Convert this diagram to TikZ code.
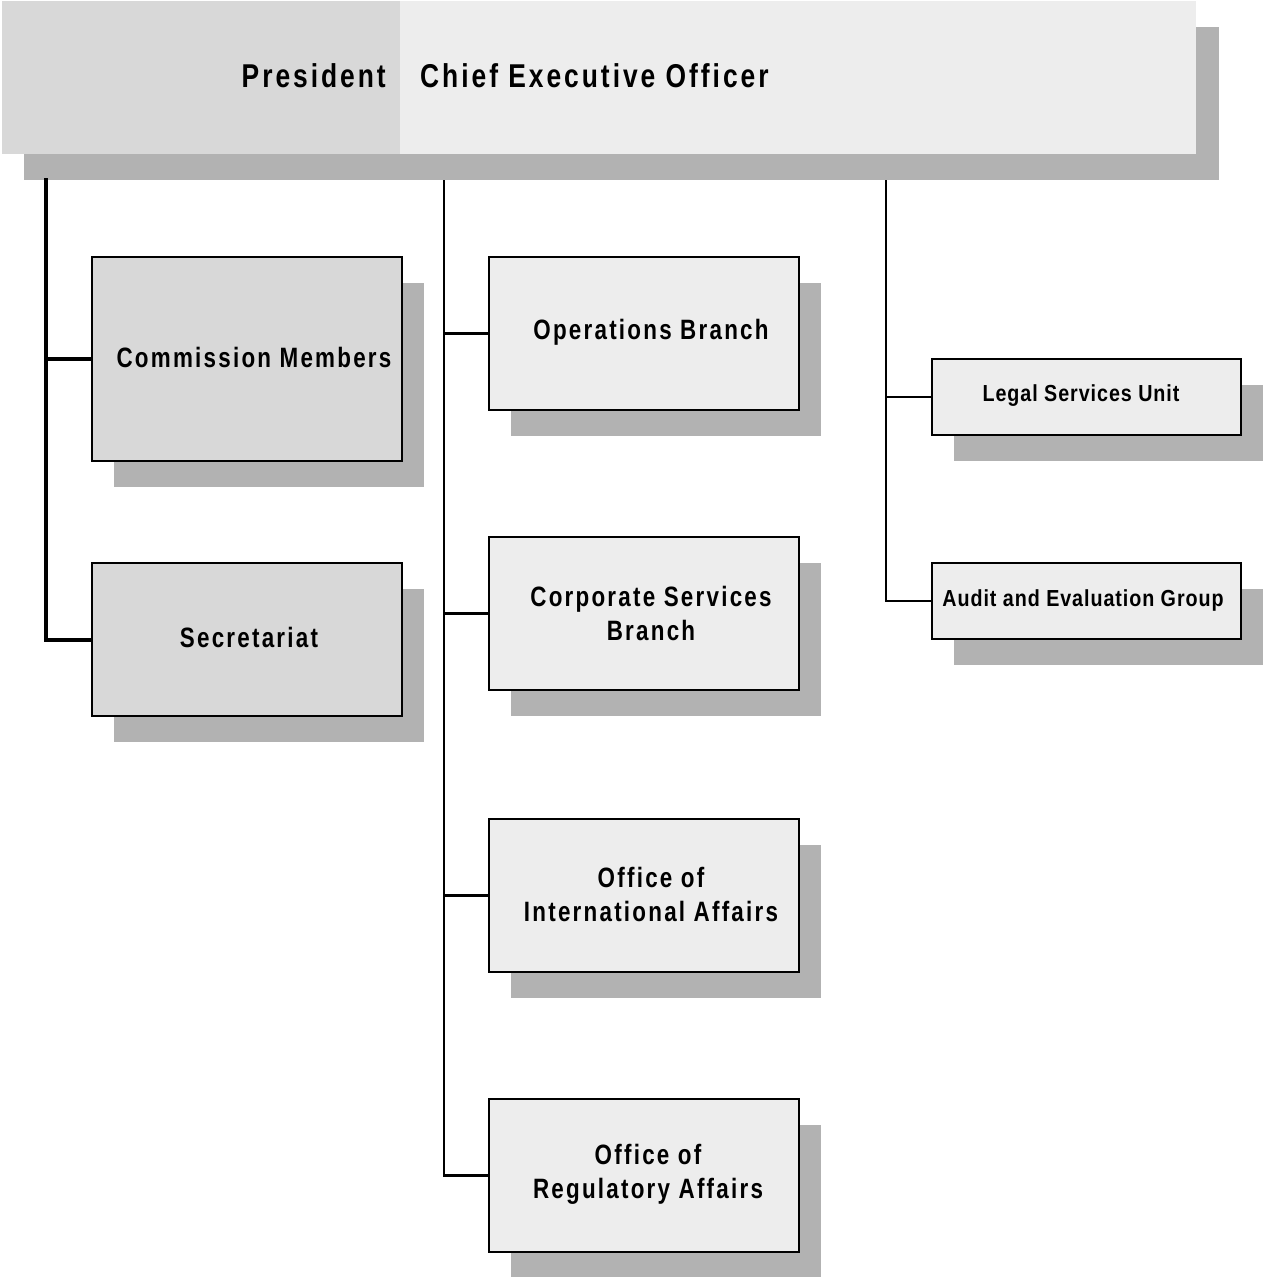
\documentclass[tikz,border=0pt]{standalone}
\usepackage{fontspec}
\usetikzlibrary{shadows}
\newfontfamily\boxfont{Liberation Sans}[FakeStretch=0.8,LetterSpace=8]
\newfontfamily\smallfont{Liberation Sans}[FakeStretch=0.85,LetterSpace=4]
\newfontfamily\bannerfont{Liberation Sans}[FakeStretch=0.8,LetterSpace=9]
\definecolor{darkfill}{HTML}{D8D8D8}
\definecolor{lightfill}{HTML}{EDEDED}
\definecolor{shadowgray}{HTML}{B2B2B2}
\begin{document}
\begin{tikzpicture}[x=1pt,y=-1pt,
  unitbox/.style={draw=black, line width=2pt, anchor=north west, inner sep=0pt,
    minimum width=310pt, minimum height=153pt,
    drop shadow={shadow xshift=22pt, shadow yshift=-26pt, fill=shadowgray, opacity=1, draw=none}},
  darkbox/.style={unitbox, fill=darkfill},
  lightbox/.style={unitbox, fill=lightfill},
  smallbox/.style={unitbox, fill=lightfill, line width=1.6pt, minimum width=309pt, minimum height=76pt},
  boxtext/.style={font=\boxfont\bfseries\fontsize{28}{34}\selectfont, align=center, inner sep=0pt},
  smalltext/.style={font=\smallfont\bfseries\fontsize{23.2}{27}\selectfont, inner sep=0pt},
  bannertext/.style={font=\bannerfont\bfseries\fontsize{33}{38}\selectfont, inner sep=0pt},
  trunk/.style={line width=#1, line join=miter},
]
\useasboundingbox (0,0) rectangle (1262,1277);
% banner
\fill[shadowgray] (24,27) rectangle (1219,180);
\node[fill=darkfill, anchor=north west, minimum width=398pt, minimum height=153pt, inner sep=0pt] (pres) at (2,1) {};
\node[fill=lightfill, anchor=north west, minimum width=796pt, minimum height=153pt, inner sep=0pt] (ceo) at (400,1) {};
\node[bannertext, anchor=base east] (prestext) at (386,87) {President};
\node[bannertext, anchor=base west] (ceotext) at (420,87) {Chief Executive Officer};
\coordinate (tl) at (46,178);
\coordinate (tm) at (444,180);
\coordinate (tr) at (886,180);
% boxes
\node[darkbox, minimum height=204pt] (comm) at (91,256) {};
\node[darkbox] (secr) at (91,562) {};
\node[lightbox] (ops) at (488,256) {};
\node[lightbox] (corp) at (488,536) {};
\node[lightbox] (intl) at (488,818) {};
\node[lightbox] (reg) at (488,1098) {};
\node[smallbox] (legal) at (931,358) {};
\node[smallbox] (audit) at (931,562) {};
% texts
\node[boxtext] (commt) at (254,357) {Commission Members};
\node[boxtext] (secrt) at (249,637) {Secretariat};
\node[boxtext] (opst) at (651,332) {Operations Branch};
\node[boxtext] (corpt) at (651,613) {Corporate Services\\Branch};
\node[boxtext] (intlt) at (651,894) {Office of\\International Affairs};
\node[boxtext] (regt) at (648,1174) {Office of\\Regulatory Affairs};
\node[smalltext] (legalt) at (1081,396) {Legal Services Unit};
\node[smalltext] (auditt) at (1083,600) {Audit and Evaluation Group};
% connectors
\draw[trunk=4pt] (tl) |- (secr.west);
\draw[trunk=4pt] (comm.west -| tl) -- (comm.west);
\draw[trunk=2.2pt] (tm) |- (reg.west);
\draw[trunk=2.2pt] (ops.west -| tm) -- (ops.west);
\draw[trunk=2.2pt] (corp.west -| tm) -- (corp.west);
\draw[trunk=2.2pt] (intl.west -| tm) -- (intl.west);
\draw[trunk=1.5pt] (tr) |- (audit.west);
\draw[trunk=1.5pt] (legal.west -| tr) -- (legal.west);
\end{tikzpicture}
\end{document}
